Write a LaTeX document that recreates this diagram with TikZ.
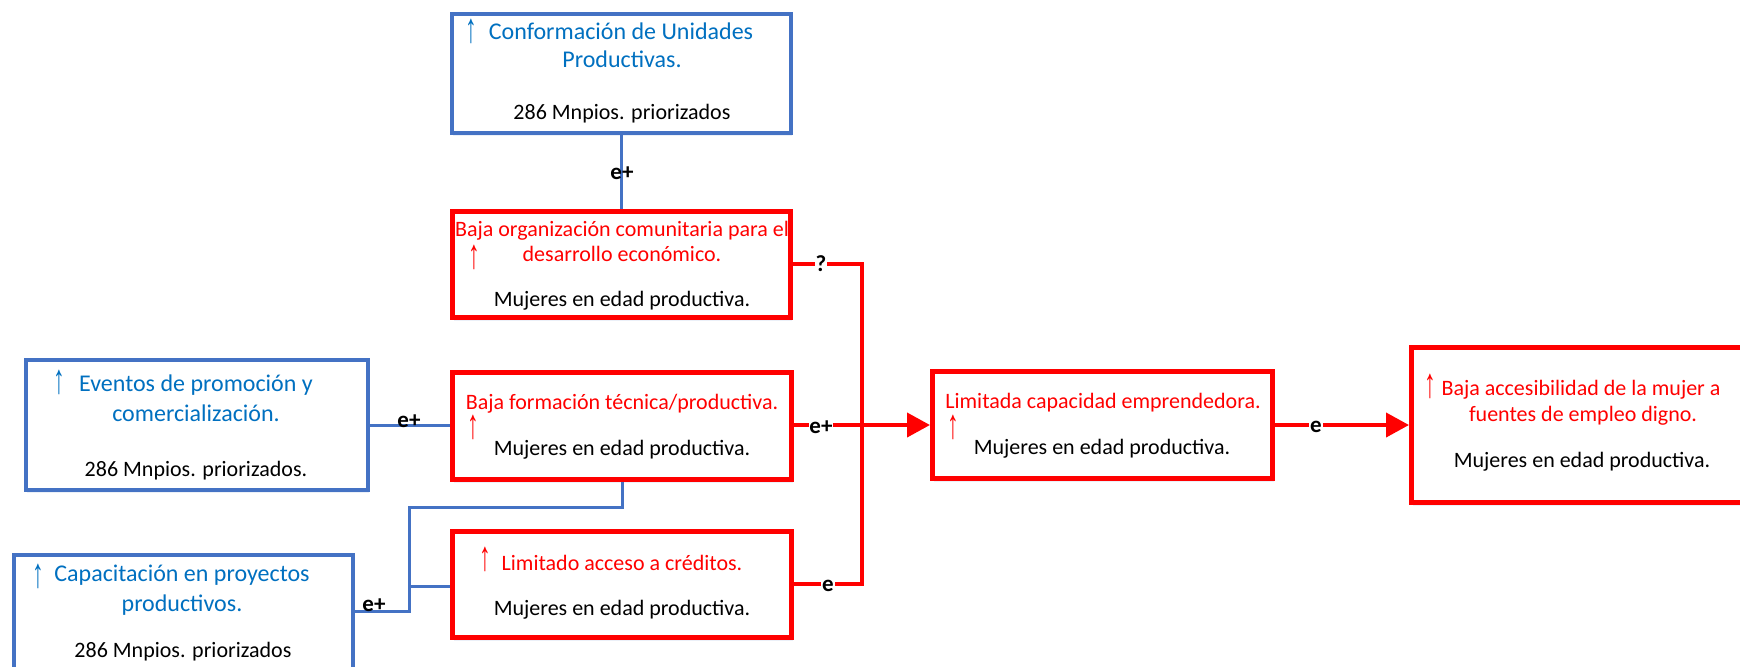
\documentclass[tikz,border=0pt]{standalone}
\usepackage{fontspec}
\usepackage{graphicx}
\setmainfont{Carlito}
\newfontfamily\arrfont{Liberation Sans}
\usetikzlibrary{arrows.meta,fit,shadows}
\definecolor{bborder}{HTML}{4472C4}
\definecolor{btext}{HTML}{0070C0}
\definecolor{rred}{HTML}{FF0000}
\newcommand{\uparr}{\scalebox{0.9}[1.6]{\arrfont ↑}}
\tikzset{
  shade/.style={drop shadow={shadow xshift=0.6pt, shadow yshift=-1.6pt, opacity=0.10, fill=bborder}},
  bluebox/.style={draw=bborder, line width=2pt, fill=white, inner sep=0pt, shade},
  redbox/.style={draw=rred, line width=2.5pt, fill=white, inner sep=0pt, shade},
  bluetitle/.style={text=btext, font=\fontsize{12}{14}\selectfont, inner sep=0pt, anchor=base},
  redtitle/.style={text=rred, font=\fontsize{11}{13}\selectfont, inner sep=0pt, anchor=base},
  bodytext/.style={text=black, font=\fontsize{11}{13}\selectfont, inner sep=0pt, anchor=base},
  bluearr/.style={text=btext, font=\fontsize{13}{14}\selectfont, inner sep=0pt, anchor=south},
  redarr/.style={text=rred, font=\fontsize{13}{14}\selectfont, inner sep=0pt, anchor=south},
  blink/.style={draw=bborder, line width=1.5pt},
  rlink/.style={draw=rred, line width=2pt},
  rarrow/.style={rlink, -{Triangle[length=11.5pt,width=12pt]}},
  blab/.style={font=\bfseries\fontsize{11.5}{13}\selectfont, inner sep=0pt, anchor=base},
  rlab/.style={font=\bfseries\fontsize{11.5}{13}\selectfont, fill=white, inner sep=0.4pt},
}
\begin{document}
\begin{tikzpicture}[x=0.5pt,y=-0.5pt]
\useasboundingbox (0,0) rectangle (1740,666);
\clip (0,0) rectangle (1740,666);
\fill[white] (0,0) rectangle (1740,666);

% ---------- boxes ----------
\node[bluebox, fit={(452,14) (791,133)}] (conf) {};
\node[redbox, fit={(452.5,211.5) (790.5,317.5)}] (borg) {};
\node[redbox, fit={(452.5,372.5) (791.5,479.5)}] (bform) {};
\node[redbox, fit={(452.5,531.5) (791.5,637.5)}] (lcred) {};
\node[redbox, fit={(932.5,371.5) (1272.5,478.5)}] (lcap) {};
\node[redbox, fit={(1411.5,347.5) (1752.5,502.5)}] (bacc) {};
\node[bluebox, fit={(26,360) (368,490)}] (even) {};
\node[bluebox, fit={(14,555) (353,690)}] (capa) {};

% ---------- texts ----------
% Conformacion
\node[bluearr] (confarr) at (471,44) {\uparr};
\node[bluetitle] (conft1) at (621,39) {Conformación de Unidades};
\node[bluetitle] (conft2) at (622,67) {Productivas.};
\node[bodytext] (confb) at (622,119) {286 Mnpios. priorizados};
% Baja organizacion
\node[redtitle] (borgt1) at (622,236) {Baja organización comunitaria para el};
\node[redarr] (borgarr) at (474,270) {\uparr};
\node[redtitle] (borgt2) at (622,261) {desarrollo económico.};
\node[bodytext] (borgb) at (622,306) {Mujeres en edad productiva.};
% Baja formacion
\node[redtitle] (bformt) at (622,409) {Baja formación técnica/productiva.};
\node[redarr] (bformarr) at (473,440) {\uparr};
\node[bodytext] (bformb) at (622,455) {Mujeres en edad productiva.};
% Limitado acceso
\node[redarr] (lcredarr) at (485,572) {\uparr};
\node[redtitle] (lcredt) at (622,570) {Limitado acceso a créditos.};
\node[bodytext] (lcredb) at (622,615) {Mujeres en edad productiva.};
% Limitada capacidad
\node[redtitle] (lcapt) at (1103,408) {Limitada capacidad emprendedora.};
\node[redarr] (lcaparr) at (953,440) {\uparr};
\node[bodytext] (lcapb) at (1102,454) {Mujeres en edad productiva.};
% Baja accesibilidad
\node[redarr] (baccarr) at (1430,399) {\uparr};
\node[redtitle] (bacct1) at (1581,395) {Baja accesibilidad de la mujer a};
\node[redtitle] (bacct2) at (1583,421) {fuentes de empleo digno.};
\node[bodytext] (baccb) at (1582,467) {Mujeres en edad productiva.};
% Eventos
\node[bluearr] (evenarr) at (59,395) {\uparr};
\node[bluetitle] (event1) at (196,391) {Eventos de promoción y};
\node[bluetitle] (event2) at (196,421) {comercialización.};
\node[bodytext] (evenb) at (196,476) {286 Mnpios. priorizados.};
% Capacitacion
\node[bluearr] (capaarr) at (38,589) {\uparr};
\node[bluetitle] (capat1) at (182,581) {Capacitación en proyectos};
\node[bluetitle] (capat2) at (182,611) {productivos.};
\node[bodytext] (capab) at (183,657) {286 Mnpios. priorizados};

% ---------- blue connectors ----------
\draw[blink] (conf.south) -- (borg.north);
\draw[blink] (even.east) -- (even.east -| bform.west);
\coordinate (j1) at (409,507);
\coordinate (j2) at (409,611);
\coordinate (j3) at (409,586);
\draw[blink] (bform.south) |- (j1) -- (j2) -- (j2 -| capa.east);
\draw[blink] (j3) -- (j3 -| lcred.west);
\node[blab] (l1) at (622,179) {e+};
\node[blab] (l2) at (409,427) {e+};
\node[blab] (l3) at (374,611) {e+};

% ---------- red connectors ----------
\coordinate (r1) at (862,264);
\coordinate (r2) at (862,584);
\coordinate (rm) at (862,425);
\draw[rlink] (borg.east |- r1) -- (r1) -- (r2) -- (r2 -| lcred.east);
\draw[rlink] (bform.east |- rm) -- (rm);
\draw[rarrow] (rm) -- (rm -| lcap.west);
\draw[rarrow] (lcap.east) -- (lcap.east -| bacc.west);
\node[rlab] (q1) at (821,264) {?};
\node[rlab] (q2) at (821,427) {e+};
\node[rlab] (q3) at (828,586) {e};
\node[rlab] (q4) at (1316,427) {e};
\end{tikzpicture}
\end{document}
